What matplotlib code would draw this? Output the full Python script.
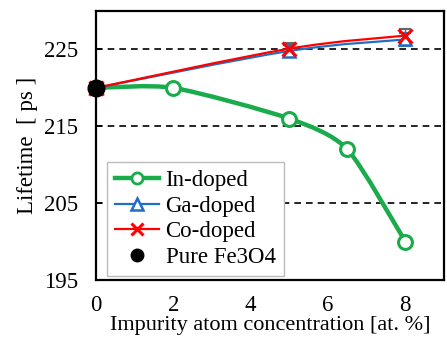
import matplotlib
matplotlib.use("Agg")
import matplotlib.pyplot as plt
import numpy as np
from matplotlib.path import Path
from matplotlib.patches import PathPatch
from matplotlib.lines import Line2D

plt.rcParams['font.family'] = ['Liberation Serif', 'DejaVu Serif']

# Positron lifetime vs. impurity concentration
in_x = [0, 2, 5, 6.5, 8]
in_y = [220.0, 220.0, 216.0, 212.0, 200.0]
ga_x = [0, 5, 8]
ga_y = [220.0, 224.8, 226.3]
co_x = [0, 5, 8]
co_y = [220.0, 225.1, 226.8]
co_err = [0.8, 0.8, 0.8]
pure_x = [0]
pure_y = [220.0]
x_ticks = [0, 2, 4, 6, 8]
y_ticks = [195, 205, 215, 225]

GREEN = '#1aab4a'
BLUE = '#1f6fc6'
RED = '#ff0000'
FS = 16.5


def smooth_path(xs, ys, k=1 / 6.0):
    """Catmull-Rom style Bezier path through the given points."""
    pts = np.column_stack([xs, ys]).astype(float)
    n = len(pts)
    verts = [pts[0]]
    codes = [Path.MOVETO]
    for i in range(n - 1):
        p0 = pts[i - 1] if i > 0 else pts[i]
        p1 = pts[i]
        p2 = pts[i + 1]
        p3 = pts[i + 2] if i + 2 < n else pts[i + 1]
        c1 = p1 + (p2 - p0) * k
        c2 = p2 - (p3 - p1) * k
        verts += [c1, c2, p2]
        codes += [Path.CURVE4] * 3
    return Path(verts, codes)


fig = plt.figure(figsize=(4.47, 3.42), dpi=100)
ax = fig.add_axes([0.2148, 0.1813, 0.7785, 0.7865])
ax.set_xlim(0, 9)
ax.set_ylim(195, 230)

for yv in y_ticks[1:]:
    ax.axhline(yv, color='black', ls=(0, (4, 3)), lw=1.2, zorder=1)

# error caps
ax.errorbar(ga_x[1:], ga_y[1:], yerr=co_err[1:], fmt='none', ecolor='#666666',
            elinewidth=1.0, capsize=4, capthick=1.5, zorder=2)
ax.errorbar(co_x[1:], co_y[1:], yerr=co_err[1:], fmt='none', ecolor='#666666',
            elinewidth=1.0, capsize=4, capthick=1.5, zorder=2)

ax.add_patch(PathPatch(smooth_path(in_x, in_y, 0.12), fill=False, edgecolor=GREEN,
                       lw=3.2, zorder=3))
ax.add_patch(PathPatch(smooth_path(ga_x, ga_y), fill=False, edgecolor=BLUE,
                       lw=1.6, zorder=4))
ax.add_patch(PathPatch(smooth_path(co_x, co_y), fill=False, edgecolor=RED,
                       lw=1.6, zorder=5))

ax.plot(in_x, in_y, ls='none', marker='o', ms=10, mfc='white', mec=GREEN,
        mew=2.2, zorder=6, clip_on=False)
ax.plot(ga_x, ga_y, ls='none', marker='^', ms=9, mfc='white', mec=BLUE,
        mew=1.8, zorder=7, clip_on=False)
ax.plot(co_x, co_y, ls='none', marker='x', ms=10, mec=RED,
        mew=2.2, zorder=8, clip_on=False)
ax.plot(pure_x, pure_y, ls='none', marker='o', ms=12, mfc='black', mec='black',
        zorder=9, clip_on=False)

ax.set_xticks(x_ticks)
ax.set_yticks(y_ticks)
ax.tick_params(axis='x', length=0, pad=10.5, labelsize=FS)
ax.tick_params(axis='y', direction='in', length=4, width=1.2, pad=13, labelsize=FS)
for s in ax.spines.values():
    s.set_linewidth(1.6)
    s.set_color('black')

ax.set_xlabel('Impurity atom concentration [at. %]', fontsize=16, labelpad=0)
ax.set_ylabel('Lifetime  [ ps ]', fontsize=FS, labelpad=4)

handles = [
    Line2D([], [], color=GREEN, lw=3.2, marker='o', ms=8, mfc='white', mec=GREEN, mew=2),
    Line2D([], [], color=BLUE, lw=1.6, marker='^', ms=8, mfc='white', mec=BLUE, mew=1.8),
    Line2D([], [], color=RED, lw=1.6, marker='x', ms=9, mec=RED, mew=2.2),
    Line2D([], [], ls='none', marker='o', ms=9, mfc='black', mec='black'),
]
labels = ['In-doped', 'Ga-doped', 'Co-doped', 'Pure Fe3O4']
leg = ax.legend(handles, labels, loc='lower left', bbox_to_anchor=(0.032, 0.015),
                fontsize=FS, frameon=True, fancybox=False, edgecolor='#bbbbbb',
                framealpha=1, handlelength=1.9, handletextpad=0.3,
                labelspacing=0.2, borderpad=0.35, borderaxespad=0)
leg.get_frame().set_linewidth(1.0)
leg.set_zorder(10)

fig.savefig('out.png', dpi=100)
